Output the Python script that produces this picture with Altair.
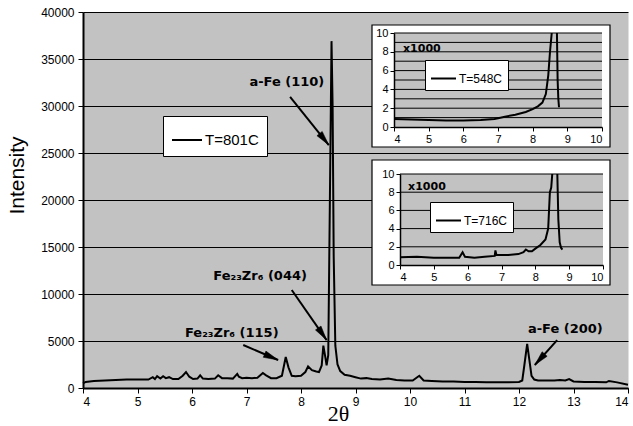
import math
import altair as alt
import pandas as pd

# ---------------- data ----------------
main_label = "T=801C"
main_two_theta = [4.00, 4.05, 4.2, 4.4, 4.6, 4.8, 5.0, 5.2, 5.28, 5.32, 5.36, 5.42, 5.47, 5.52, 5.58,
                  5.65, 5.75, 5.83, 5.89, 5.95, 6.02, 6.1, 6.15, 6.2, 6.3, 6.42, 6.48, 6.55, 6.65,
                  6.75, 6.83, 6.86, 6.92, 7.0, 7.1, 7.2, 7.3, 7.36, 7.45, 7.55, 7.65, 7.72, 7.77,
                  7.83, 7.9, 8.0, 8.08, 8.13, 8.2, 8.28, 8.33, 8.38, 8.41, 8.44, 8.47, 8.50, 8.53,
                  8.56, 8.58, 8.60, 8.63, 8.67, 8.72, 8.8, 8.9, 9.0, 9.1, 9.2, 9.3, 9.45, 9.6, 9.75,
                  9.9, 10.05, 10.17, 10.25, 10.4, 10.6, 10.8, 11.0, 11.2, 11.4, 11.6, 11.8, 12.0,
                  12.06, 12.1, 12.15, 12.19, 12.23, 12.28, 12.35, 12.5, 12.65, 12.75, 12.85, 12.92,
                  13.0, 13.2, 13.4, 13.6, 13.65, 13.8, 14.0]
main_intensity = [500, 650, 750, 800, 850, 900, 900, 900, 1150, 950, 1250, 1000, 1250, 1050, 1150,
                  950, 950, 1300, 1700, 1200, 950, 1000, 1350, 1000, 950, 1000, 1350, 1050, 1050,
                  1000, 1500, 1200, 1050, 1100, 1050, 1100, 1600, 1350, 1050, 1050, 1300, 3300, 2200,
                  1300, 1250, 1300, 1700, 2300, 1900, 1750, 1700, 2400, 4500, 3500, 2400, 3500, 20000,
                  36900, 30000, 14000, 4500, 2500, 1800, 1400, 1300, 1150, 1000, 1050, 950, 900, 1000, 850,
                  800, 800, 1300, 800, 750, 700, 700, 650, 650, 600, 600, 600, 650,
                  800, 2500, 4700, 3000, 1300, 900, 800, 800, 800, 850, 800, 950,
                  700, 650, 650, 600, 750, 600, 350]

inset1_label = "T=548C"
inset1_two_theta = [4.0, 4.5, 5.0, 5.5, 6.0, 6.5, 6.9, 7.2, 7.5, 7.8, 8.0, 8.15, 8.28, 8.38, 8.45,
                    8.5, 8.55, 8.62, 8.70, 8.72, 8.74, 8.76]
inset1_kcounts = [0.85, 0.8, 0.75, 0.7, 0.7, 0.75, 0.85, 1.1, 1.3, 1.6, 1.9, 2.2, 2.6, 3.5, 5.5,
                  8.0, 10.0, None, 10.0, 5.0, 3.0, 2.1]

inset2_label = "T=716C"
inset2_two_theta = [4.0, 4.5, 5.0, 5.5, 5.75, 5.85, 5.92, 6.2, 6.5, 6.8, 6.82, 6.85, 7.2, 7.5, 7.65,
                    7.72, 7.8, 7.9, 8.0, 8.15, 8.3, 8.38, 8.43, 8.47, 8.50, 8.57, 8.65, 8.68, 8.72,
                    8.76, 8.8]
inset2_kcounts = [0.85, 0.9, 0.8, 0.8, 0.8, 1.4, 0.9, 0.8, 0.9, 1.0, 1.6, 1.1, 1.1, 1.2, 1.4,
                  1.7, 1.5, 1.5, 1.8, 2.2, 2.8, 4.0, 8.0, 8.5, 10.0, None, 10.0, 5.0, 2.5,
                  1.9, 1.7]

peak_labels = ["a-Fe (110)", "Fe\u2082\u2083Zr\u2086 (044)", "Fe\u2082\u2083Zr\u2086 (115)", "a-Fe (200)"]
label_x = [7.74, 7.25, 6.73, 12.85]
label_y = [32550, 11900, 5850, 6280]
arrow_x1 = [7.80, 7.83, 6.94, 12.70]
arrow_y1 = [30960, 10430, 4570, 5100]
arrow_x2 = [8.51, 8.47, 7.58, 12.29]
arrow_y2 = [25850, 5100, 2980, 2450]

main_x_ticks = list(range(4, 15))
main_y_ticks = list(range(0, 40001, 5000))
inset_x_ticks = list(range(4, 11))
inset_y_ticks = [0, 2, 4, 6, 8, 10]
inset1_grid = list(range(1, 11))
inset2_grid = [2, 4, 6, 8, 10]

# ---------------- layout ----------------
W, H = 545, 376
GRAY = "#c2c2c2"
SANS = "Liberation Sans"
BOLD = "DejaVu Sans"

main_df = pd.DataFrame({"x": main_two_theta, "y": main_intensity, "s": main_label})
ann_df = pd.DataFrame({"t": peak_labels, "lx": label_x, "ly": label_y,
                       "x1": arrow_x1, "y1": arrow_y1, "x2": arrow_x2, "y2": arrow_y2})
# arrow head direction in screen space
px_per_x = W / 10.0
px_per_y = H / 40000.0
ann_df["ang"] = [
    (math.degrees(math.atan2((b - a) * px_per_x, (d - c) * px_per_y)) + 360) % 360
    for a, b, c, d in zip(arrow_x1, arrow_x2, arrow_y1, arrow_y2)
]

xs_main = alt.Scale(domain=[4, 14], nice=False, zero=False)
ys_main = alt.Scale(domain=[0, 40000], nice=False)

x_axis_main = alt.Axis(values=main_x_ticks, format="d", grid=False, orient="bottom",
                       labelFont=SANS, labelFontSize=12, labelColor="black", labelPadding=3,
                       tickSize=5, tickColor="black", domainColor="black", domainWidth=2,
                       title="2\u03b8", titleFont="Liberation Serif", titleFontSize=22,
                       titleFontWeight="normal", titleColor="black", titleX=255, titleY=25,
                       titleBaseline="middle")
y_axis_main = alt.Axis(values=main_y_ticks, format="d", grid=True, gridColor="black", gridWidth=1,
                       orient="left", labelFont=SANS, labelFontSize=12, labelColor="black",
                       labelPadding=4, tickSize=5, tickColor="black", domainColor="black",
                       domainWidth=2, title="Intensity", titleFont=SANS, titleFontSize=21,
                       titleFontWeight="normal", titleColor="black", titleX=-66, titleY=163,
                       titleAngle=270, titleBaseline="middle")


def legend(x, y, size, fs, pad):
    return alt.Legend(orient="none", legendX=x, legendY=y, title=None, fillColor="white",
                      strokeColor="black", padding=pad, symbolType="stroke", symbolSize=size,
                      symbolStrokeWidth=2, labelFont=SANS, labelFontSize=fs, labelColor="black",
                      labelOffset=2)


main_line = alt.Chart(main_df).mark_line(strokeWidth=2, interpolate="linear").encode(
    x=alt.X("x:Q", scale=xs_main, axis=x_axis_main),
    y=alt.Y("y:Q", scale=ys_main, axis=y_axis_main),
    color=alt.Color("s:N", scale=alt.Scale(domain=[main_label], range=["black"]),
                    legend=legend(80, 104, 900, 15, 8)),
)
arrow_rules = alt.Chart(ann_df).mark_rule(color="black", strokeWidth=2).encode(
    x=alt.X("x1:Q", scale=xs_main, axis=x_axis_main), x2="x2:Q",
    y=alt.Y("y1:Q", scale=ys_main, axis=y_axis_main), y2="y2:Q",
)
arrow_heads = alt.Chart(ann_df).mark_point(
    shape="M0,0L-0.55,2.4L0.55,2.4Z", filled=True, color="black", size=150, opacity=1,
    stroke="black", strokeWidth=0.5
).encode(
    x=alt.X("x2:Q", scale=xs_main, axis=x_axis_main),
    y=alt.Y("y2:Q", scale=ys_main, axis=y_axis_main),
    angle=alt.Angle("ang:Q", scale=None),
)
peak_text = alt.Chart(ann_df).mark_text(font=BOLD, fontWeight="bold", fontSize=13,
                                        color="black", align="center", baseline="middle").encode(
    x=alt.X("lx:Q", scale=xs_main, axis=x_axis_main),
    y=alt.Y("ly:Q", scale=ys_main, axis=y_axis_main),
    text="t:N",
)
main_layer = alt.layer(main_line, arrow_rules, arrow_heads, peak_text)


def inset(xs_vals, ys_vals, label, grid_vals, xr, yr, box, leg_xy, k_xy):
    df = pd.DataFrame({"x": xs_vals, "y": ys_vals, "s": label})
    xs = alt.Scale(domain=[4, 10], range=xr, nice=False, zero=False)
    ys = alt.Scale(domain=[0, 10], range=yr, nice=False)
    xa = alt.Axis(values=inset_x_ticks, format="d", grid=False, orient="bottom", offset=-(H - yr[0]),
                  labelFont=SANS, labelFontSize=11, labelColor="black", labelPadding=2, tickSize=4,
                  tickColor="black", domainColor="black", domainWidth=1.5, title=None, zindex=2)
    ya = alt.Axis(values=inset_y_ticks, format="d", grid=False, orient="left", offset=-xr[0],
                  labelFont=SANS, labelFontSize=11, labelColor="black", labelPadding=2, tickSize=4,
                  tickColor="black", domainColor="black", domainWidth=1.5, title=None, zindex=2)
    box_layer = alt.Chart(pd.DataFrame({"a": [0]})).mark_rect(
        fill="white", stroke="black", strokeWidth=1.2).encode(
        x=alt.value(box[0]), x2=alt.value(box[1]), y=alt.value(box[2]), y2=alt.value(box[3]))
    frame = pd.DataFrame({"x0": [4], "x1": [10], "y0": [0], "y1": [10]})
    bg = alt.Chart(frame).mark_rect(fill=GRAY).encode(
        x=alt.X("x0:Q", scale=xs, axis=xa), x2="x1:Q",
        y=alt.Y("y0:Q", scale=ys, axis=ya), y2="y1:Q")
    gdf = pd.DataFrame({"g": grid_vals, "x0": 4, "x1": 10})
    grid = alt.Chart(gdf).mark_rule(color="black", strokeWidth=1).encode(
        x=alt.X("x0:Q", scale=xs, axis=xa), x2="x1:Q",
        y=alt.Y("g:Q", scale=ys, axis=ya))
    line = alt.Chart(df).mark_line(strokeWidth=2).encode(
        x=alt.X("x:Q", scale=xs, axis=xa),
        y=alt.Y("y:Q", scale=ys, axis=ya),
        color=alt.Color("s:N", scale=alt.Scale(domain=[label], range=["black"]),
                        legend=legend(leg_xy[0], leg_xy[1], 625, 12, 5)),
    )
    kdf = pd.DataFrame({"x": [k_xy[0]], "y": [k_xy[1]], "t": ["x1000"]})
    ktext = alt.Chart(kdf).mark_text(font=BOLD, fontWeight="bold", fontSize=11, color="black",
                                     align="left", baseline="middle").encode(
        x=alt.X("x:Q", scale=xs, axis=xa), y=alt.Y("y:Q", scale=ys, axis=ya), text="t:N")
    return alt.layer(box_layer, bg, grid, line, ktext)


inset1 = inset(inset1_two_theta, inset1_kcounts, inset1_label, inset1_grid,
               [311, 519], [115, 21], (289, 527, 13, 135), (342, 48), (4.26, 8.3))
inset2 = inset(inset2_two_theta, inset2_kcounts, inset2_label, inset2_grid,
               [317, 520], [253, 162], (289, 527, 148, 273), (347, 190), (4.24, 8.6))

chart = alt.layer(main_layer, inset1, inset2).resolve_scale(
    x="independent", y="independent", color="independent"
).resolve_axis(x="independent", y="independent").resolve_legend(color="independent").properties(
    width=W, height=H,
    autosize=alt.AutoSizeParams(type="none"),
    padding={"left": 83, "top": 12, "right": 5, "bottom": 38},
    background="white",
).configure_view(fill=GRAY, stroke="transparent")

chart.save("out.html", embed_options={"renderer": "svg", "actions": False})
